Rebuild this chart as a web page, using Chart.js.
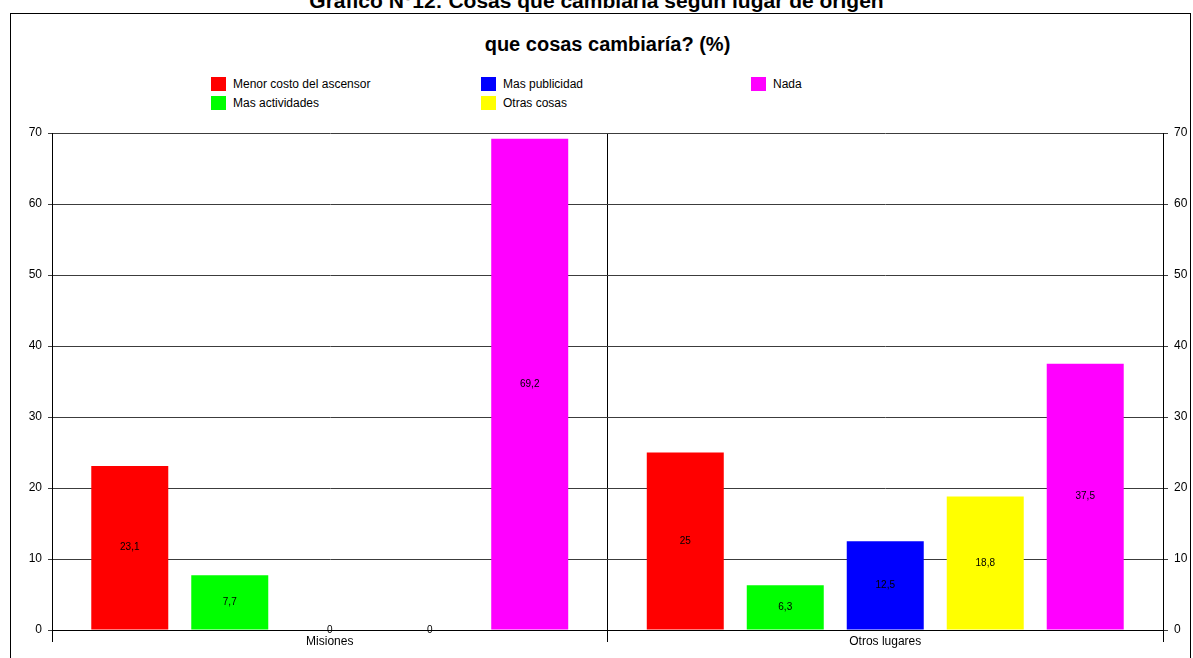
<!DOCTYPE html>
<html lang="es">
<head>
<meta charset="utf-8">
<title>Grafico N°12</title>
<script src="https://cdn.jsdelivr.net/npm/chart.js@4.4.1/dist/chart.umd.min.js"></script>
<style>
    body {
        margin: 0;
        width: 1193px;
        height: 658px;
        overflow: hidden;
        background: #fff;
        position: relative;
        font-family: Arial, "Liberation Sans", sans-serif;
    }
    #titulo {
        position: absolute;
        left: 0;
        top: -11px;
        width: 1193px;
        text-align: center;
        font-weight: bold;
        font-size: 21px;
        line-height: 24px;
    }
    #marco {
        position: absolute;
        left: 10px;
        top: 13px;
        width: 1181px;
        height: 700px;
        border: 1px solid #000;
        box-sizing: border-box;
    }
    #subtitulo {
        position: absolute;
        left: 52px;
        top: 32px;
        width: 1111px;
        text-align: center;
        font-weight: bold;
        font-size: 20px;
        line-height: 24px;
    }
    #leyenda {
        position: absolute;
        left: 211px;
        top: 74px;
        display: grid;
        grid-auto-flow: column;
        grid-template-rows: 19px 19px;
        grid-auto-columns: 270px;
        font-size: 12px;
    }
    .item { display: flex; align-items: center; }
    .caja { width: 15px; height: 14px; margin-right: 7px; }
    canvas { position: absolute; left: 0; top: 0; }
</style>
</head>
<body>
<div id="titulo">Grafico N°12: Cosas que cambiaría según lugar de origen</div>
<div id="marco"></div>
<div id="subtitulo">que cosas cambiaría? (%)</div>
<div id="leyenda"></div>
<canvas id="grafico" width="1193" height="658"></canvas>

<script>
// Datos del gráfico (%)
const lugares = ['Misiones', 'Otros lugares'];
const respuestas = ['Menor costo del ascensor', 'Mas actividades', 'Mas publicidad', 'Otras cosas', 'Nada'];
const menorCosto = [23.1, 25];
const masActividades = [7.7, 6.3];
const masPublicidad = [0, 12.5];
const otrasCosas = [0, 18.8];
const nada = [69.2, 37.5];
const colores = ['#ff0000', '#00ff00', '#0000ff', '#ffff00', '#ff00ff'];
const escalaMin = 0;
const escalaMax = 70;
const escalaPaso = 10;

const series = [menorCosto, masActividades, masPublicidad, otrasCosas, nada];

// Leyenda en columnas (dos filas por columna)
const leyenda = document.getElementById('leyenda');
respuestas.forEach((nombre, i) => {
    const item = document.createElement('div');
    item.className = 'item';
    const caja = document.createElement('span');
    caja.className = 'caja';
    caja.style.background = colores[i];
    item.appendChild(caja);
    item.appendChild(document.createTextNode(nombre));
    leyenda.appendChild(item);
});

// Valores escritos en el centro de cada barra, con coma decimal
const etiquetas = {
    id: 'etiquetas',
    afterDatasetsDraw(chart) {
        const ctx = chart.ctx;
        ctx.save();
        ctx.font = '10px Arial, "Liberation Sans", sans-serif';
        ctx.fillStyle = '#000';
        ctx.textAlign = 'center';
        ctx.textBaseline = 'middle';
        chart.data.datasets.forEach((ds, i) => {
            chart.getDatasetMeta(i).data.forEach((barra, j) => {
                const texto = String(ds.data[j]).replace('.', ',');
                ctx.fillText(texto, barra.x, (barra.y + barra.base) / 2);
            });
        });
        ctx.restore();
    }
};

const ejeY = (lado, ancho) => ({
    position: lado,
    min: escalaMin,
    max: escalaMax,
    ticks: {
        stepSize: escalaPaso,
        color: '#000',
        padding: 6,
        font: { size: 12, family: 'Arial, "Liberation Sans", sans-serif' }
    },
    grid: {
        color: '#3c3c3c',
        tickLength: lado === 'left' ? 4 : 5,
        drawOnChartArea: lado === 'left'
    },
    border: { color: '#000' },
    afterFit(escala) { escala.width = ancho; }
});

const ctx = document.getElementById('grafico').getContext('2d');
new Chart(ctx, {
    type: 'bar',
    data: {
        labels: lugares,
        datasets: respuestas.map((nombre, i) => ({
            label: nombre,
            data: series[i],
            backgroundColor: colores[i],
            borderWidth: 0,
            categoryPercentage: 0.9,
            barPercentage: 0.77
        }))
    },
    options: {
        responsive: false,
        animation: false,
        layout: { padding: { top: 133, left: 0, right: 0, bottom: 0 } },
        plugins: {
            legend: { display: false },
            title: { display: false },
            tooltip: { enabled: false }
        },
        scales: {
            x: {
                offset: true,
                grid: { offset: true, color: '#000', tickLength: 12 },
                border: { color: '#000' },
                ticks: {
                    color: '#000',
                    padding: -8,
                    font: { size: 12, family: 'Arial, "Liberation Sans", sans-serif' }
                },
                afterFit(escala) { escala.height = 28; }
            },
            y: ejeY('left', 52),
            y2: ejeY('right', 30)
        }
    },
    plugins: [etiquetas]
});
</script>
</body>
</html>
